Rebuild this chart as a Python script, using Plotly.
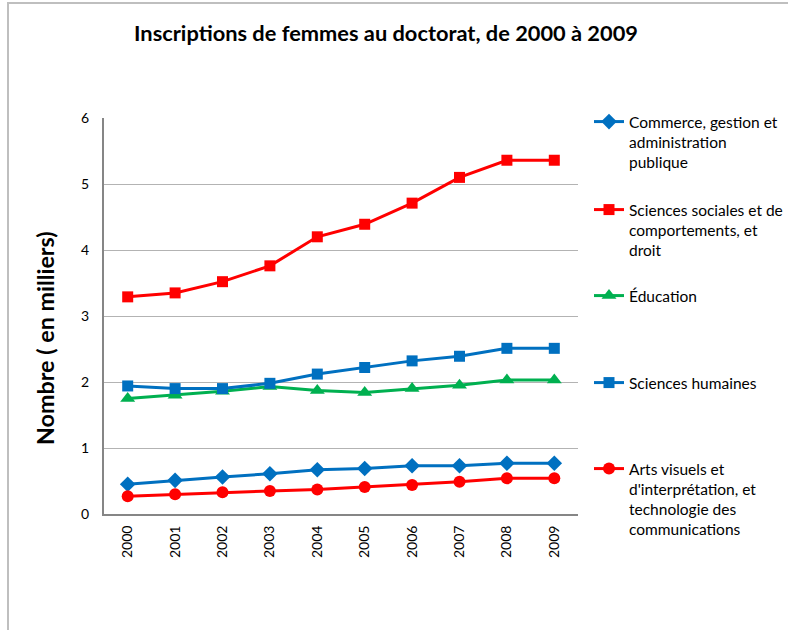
import plotly.graph_objects as go

years = ["2000", "2001", "2002", "2003", "2004", "2005", "2006", "2007", "2008", "2009"]

commerce = [0.45, 0.51, 0.56, 0.61, 0.67, 0.69, 0.73, 0.73, 0.77, 0.77]
sciences_sociales = [3.29, 3.35, 3.52, 3.76, 4.20, 4.39, 4.71, 5.10, 5.36, 5.36]
education = [1.75, 1.80, 1.86, 1.93, 1.87, 1.84, 1.90, 1.95, 2.03, 2.03]
sciences_humaines = [1.94, 1.90, 1.90, 1.98, 2.12, 2.22, 2.32, 2.39, 2.51, 2.51]
arts = [0.27, 0.30, 0.33, 0.35, 0.37, 0.41, 0.44, 0.49, 0.54, 0.54]

names = [
    "Commerce, gestion et<br>administration<br>publique",
    "Sciences sociales et de<br>comportements, et<br>droit",
    "Éducation",
    "Sciences humaines",
    "Arts visuels et<br>d'interprétation, et<br>technologie des<br>communications",
]
series = [commerce, sciences_sociales, education, sciences_humaines, arts]
colors = ["#0070C0", "#FF0000", "#00B050", "#0070C0", "#FF0000"]
symbols = ["diamond", "square", "triangle-up", "square", "circle"]
sizes = [12, 11, 13, 11, 12]
legend_ids = ["legend", "legend2", "legend3", "legend4", "legend5"]
legend_top_px = [105, 193, 279, 366, 452]

FONT = "Lato"
W, H = 788, 630
L, R, T, B = 104, 210, 118, 116
pw, ph = W - L - R, H - T - B

def px_x(x):
    return (x - L) / pw

def px_y(y):
    return (H - B - y) / ph

fig = go.Figure()
for s, n, c, sym, sz, lg in zip(series, names, colors, symbols, sizes, legend_ids):
    fig.add_trace(go.Scatter(
        x=years, y=s, name=n, mode="lines+markers",
        line=dict(color=c, width=3),
        marker=dict(symbol=sym, size=sz, color=c),
        legend=lg,
    ))

layout_legends = {}
for lg, top in zip(legend_ids, legend_top_px):
    layout_legends[lg] = dict(
        x=px_x(589), y=px_y(top), xanchor="left", yanchor="top",
        xref="paper", yref="paper",
        font=dict(family=FONT, size=15.5, color="#000000"),
        bgcolor="rgba(0,0,0,0)", borderwidth=0, valign="top",
    )

fig.update_layout(
    width=W, height=H,
    margin=dict(l=L, r=R, t=T, b=B, autoexpand=False),
    paper_bgcolor="white", plot_bgcolor="white",
    showlegend=True,
    title=dict(
        text="<b>Inscriptions de femmes au doctorat, de 2000 à 2009</b>",
        x=386 / W, xanchor="center", y=1 - 33 / H, yanchor="middle",
        xref="container", yref="container",
        font=dict(family=FONT, size=21.8, color="#000000"),
    ),
    xaxis=dict(
        type="category", tickangle=-90, range=[-0.5, len(years) - 0.5],
        tickfont=dict(family=FONT, size=14, color="#000000"),
        showgrid=False, showline=True, linecolor="#868686", linewidth=2,
        ticks="", zeroline=False, ticklabelstandoff=4,
    ),
    yaxis=dict(
        range=[0, 6], dtick=1, tick0=0,
        tickfont=dict(family=FONT, size=14, color="#000000"),
        showgrid=True, gridcolor="#B3B3B3", gridwidth=1,
        showline=True, linecolor="#868686", linewidth=2,
        ticks="", zeroline=False, ticklabelstandoff=10,
    ),
    **layout_legends,
)

fig.add_annotation(
    text="<b>Nombre ( en milliers)</b>", textangle=-90,
    x=px_x(45), y=px_y(338), xref="paper", yref="paper",
    showarrow=False, xanchor="center", yanchor="middle",
    font=dict(family=FONT, size=23.3, color="#000000"),
)

fig.add_shape(
    type="rect", xref="paper", yref="paper",
    x0=px_x(8), x1=px_x(820), y0=px_y(660), y1=px_y(3),
    line=dict(color="#BFBFBF", width=2), fillcolor="rgba(0,0,0,0)", layer="below",
)

fig.write_html(
    "out.html",
    config={"displayModeBar": False},
    post_script="document.body.style.margin='0';document.body.style.overflow='hidden';",
)
